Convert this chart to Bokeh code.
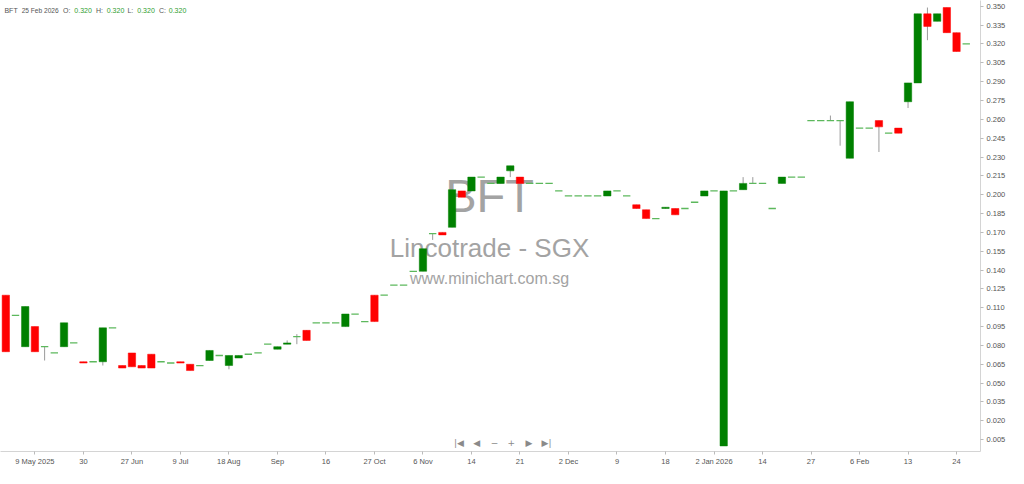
from bokeh.plotting import figure
from bokeh.models import Range1d, FixedTicker, NumeralTickFormatter, Label, ColumnDataSource
from bokeh.embed import file_html
from bokeh.resources import INLINE
from bokeh.core.properties import value

# ---- data ----
opens = [0.120, 0.104, 0.079, 0.095, 0.079, 0.074, 0.079, 0.082, 0.067, 0.067,
         0.067, 0.094, 0.064, 0.074, 0.064, 0.073, 0.067, 0.066, 0.067, 0.065,
         0.064, 0.068, 0.072, 0.064, 0.070, 0.073, 0.074, 0.081, 0.077, 0.081,
         0.087, 0.092, 0.098, 0.098, 0.098, 0.095, 0.105, 0.099, 0.120, 0.120,
         0.128, 0.128, 0.139, 0.139, 0.169, 0.170, 0.174, 0.203, 0.203, 0.214,
         0.209, 0.209, 0.219, 0.214, 0.209, 0.209, 0.209, 0.203, 0.199, 0.199,
         0.199, 0.199, 0.199, 0.203, 0.199, 0.192, 0.188, 0.181, 0.189, 0.189,
         0.189, 0.194, 0.199, 0.203, 0.000, 0.203, 0.204, 0.209, 0.209, 0.189,
         0.209, 0.214, 0.214, 0.259, 0.259, 0.259, 0.259, 0.229, 0.253, 0.253,
         0.259, 0.249, 0.253, 0.274, 0.289, 0.344, 0.338, 0.349, 0.329, 0.320]
closes = [0.075, 0.104, 0.111, 0.075, 0.079, 0.074, 0.098, 0.082, 0.066, 0.067,
          0.094, 0.094, 0.062, 0.063, 0.062, 0.062, 0.067, 0.066, 0.066, 0.060,
          0.064, 0.076, 0.072, 0.072, 0.072, 0.073, 0.074, 0.081, 0.079, 0.082,
          0.087, 0.084, 0.098, 0.098, 0.098, 0.105, 0.105, 0.099, 0.099, 0.120,
          0.128, 0.128, 0.139, 0.157, 0.169, 0.168, 0.204, 0.198, 0.214, 0.214,
          0.209, 0.214, 0.223, 0.209, 0.209, 0.209, 0.209, 0.203, 0.199, 0.199,
          0.199, 0.199, 0.203, 0.203, 0.199, 0.189, 0.181, 0.181, 0.190, 0.184,
          0.189, 0.194, 0.203, 0.203, 0.203, 0.203, 0.209, 0.209, 0.209, 0.189,
          0.214, 0.214, 0.214, 0.259, 0.259, 0.259, 0.259, 0.274, 0.253, 0.253,
          0.254, 0.249, 0.249, 0.289, 0.344, 0.334, 0.344, 0.329, 0.314, 0.320]
highs = [0.120, 0.104, 0.111, 0.095, 0.079, 0.074, 0.098, 0.082, 0.067, 0.067,
         0.094, 0.094, 0.064, 0.074, 0.064, 0.073, 0.067, 0.066, 0.067, 0.065,
         0.064, 0.076, 0.072, 0.072, 0.072, 0.073, 0.074, 0.081, 0.079, 0.084,
         0.089, 0.092, 0.098, 0.098, 0.098, 0.105, 0.105, 0.099, 0.120, 0.120,
         0.128, 0.128, 0.139, 0.157, 0.169, 0.170, 0.204, 0.203, 0.214, 0.214,
         0.209, 0.214, 0.223, 0.214, 0.209, 0.209, 0.209, 0.203, 0.199, 0.199,
         0.199, 0.199, 0.203, 0.203, 0.199, 0.192, 0.188, 0.181, 0.190, 0.189,
         0.189, 0.194, 0.203, 0.203, 0.203, 0.203, 0.214, 0.214, 0.209, 0.189,
         0.214, 0.214, 0.214, 0.259, 0.259, 0.263, 0.259, 0.274, 0.253, 0.253,
         0.259, 0.249, 0.253, 0.289, 0.344, 0.349, 0.344, 0.349, 0.329, 0.320]
lows = [0.075, 0.104, 0.079, 0.075, 0.068, 0.074, 0.079, 0.082, 0.066, 0.067,
        0.064, 0.094, 0.062, 0.063, 0.062, 0.062, 0.067, 0.066, 0.066, 0.060,
        0.064, 0.068, 0.072, 0.061, 0.070, 0.073, 0.074, 0.081, 0.077, 0.081,
        0.081, 0.084, 0.098, 0.098, 0.098, 0.095, 0.105, 0.099, 0.099, 0.120,
        0.128, 0.128, 0.139, 0.139, 0.164, 0.168, 0.174, 0.198, 0.203, 0.214,
        0.209, 0.209, 0.214, 0.209, 0.209, 0.209, 0.209, 0.203, 0.199, 0.199,
        0.199, 0.199, 0.199, 0.203, 0.199, 0.189, 0.181, 0.181, 0.189, 0.184,
        0.189, 0.194, 0.199, 0.203, 0.000, 0.203, 0.204, 0.209, 0.209, 0.189,
        0.209, 0.214, 0.214, 0.259, 0.259, 0.259, 0.239, 0.229, 0.253, 0.253,
        0.234, 0.249, 0.249, 0.269, 0.289, 0.323, 0.338, 0.329, 0.314, 0.320]

tick_positions = [3, 8, 13, 18, 23, 28, 33, 38, 43, 48, 53, 58, 63, 68, 73, 78, 83, 88, 93, 98]
tick_labels = ["9 May 2025", "30", "27 Jun", "9 Jul", "18 Aug", "Sep", "16", "27 Oct", "6 Nov", "14",
               "21", "2 Dec", "9", "18", "2 Jan 2026", "14", "27", "6 Feb", "13", "24"]
price_ticks = [round(0.005 + 0.015 * k, 3) for k in range(24)]

symbol = "BFT"
last_date = "25 Feb 2026"
last_close = closes[-1]

# ---- layout helpers: reference-pixel -> data ----
X0, X1 = -0.548, 100.47
Y0, Y1 = -0.00444, 0.3546
def dx(px):
    return X0 + px / 996.0 * (X1 - X0)
def dy(py):
    return Y1 - py / 468.0 * (Y1 - Y0)

p = figure(width=1008, height=468, output_backend="svg", toolbar_location=None,
           x_range=Range1d(X0, X1), y_range=Range1d(Y0, Y1),
           y_axis_location="right", min_border_left=0, min_border_top=0,
           min_border_right=28, min_border_bottom=16)
p.outline_line_color = None
p.xgrid.visible = False
p.ygrid.visible = False
p.background_fill_color = "white"

# watermark
wm_font = value("Liberation Sans")
p.text(x=[dx(497)], y=[dy(202)], text=[symbol], text_font=wm_font, text_font_size="47px",
       text_color="#a3a3a3", text_align="center", text_baseline="middle")
p.text(x=[dx(497)], y=[dy(257)], text=["Lincotrade - SGX"], text_font=wm_font, text_font_size="26px",
       text_color="#a3a3a3", text_align="center", text_baseline="middle")
p.text(x=[dx(497)], y=[dy(288)], text=["www.minichart.com.sg"], text_font=wm_font, text_font_size="16px",
       text_color="#a3a3a3", text_align="center", text_baseline="middle")

n = len(opens)
idx = list(range(n))

# wicks
p.segment(x0=idx, y0=lows, x1=idx, y1=highs, line_color="#9a9a9a", line_width=1)

def subset(cond):
    xs, tops, bots = [], [], []
    for i in idx:
        if cond(opens[i], closes[i]):
            xs.append(i)
            tops.append(max(opens[i], closes[i]))
            bots.append(min(opens[i], closes[i]))
    return ColumnDataSource(dict(x=xs, top=tops, bottom=bots))

up_src = subset(lambda o, c: c > o)
dn_src = subset(lambda o, c: c < o)
fl_src = subset(lambda o, c: c == o)

W = 0.76
p.vbar(x="x", top="top", bottom="bottom", width=W, source=up_src,
       fill_color="#008000", line_color="#008000", line_width=0.5)
p.vbar(x="x", top="top", bottom="bottom", width=W, source=dn_src,
       fill_color="#ff0000", line_color="#ff0000", line_width=0.5)
fx = fl_src.data["x"]
p.segment(x0=[x - W / 2 for x in fx], x1=[x + W / 2 for x in fx],
          y0=fl_src.data["top"], y1=fl_src.data["top"], line_color="#5cb85c", line_width=1.3)

# axes
lab_font = "Liberation Sans"
xa = p.xaxis[0]
xa.ticker = FixedTicker(ticks=tick_positions)
xa.major_label_overrides = {t: l for t, l in zip(tick_positions, tick_labels)}
xa.minor_tick_line_color = None
xa.axis_line_color = "#d4d4d4"
xa.major_tick_line_color = "#bbbbbb"
xa.major_tick_in = 0
xa.major_tick_out = 3
xa.major_label_standoff = 2
xa.major_label_text_font_size = "7.5px"
xa.major_label_text_color = "#555555"
xa.major_label_text_font = lab_font

ya = p.yaxis[0]
ya.ticker = FixedTicker(ticks=price_ticks)
ya.formatter = NumeralTickFormatter(format="0.000")
ya.minor_tick_line_color = None
ya.axis_line_color = "#d4d4d4"
ya.major_tick_line_color = "#bbbbbb"
ya.major_tick_in = 0
ya.major_tick_out = 3
ya.major_label_standoff = 3
ya.major_label_text_font_size = "7.5px"
ya.major_label_text_color = "#555555"
ya.major_label_text_font = lab_font

# header
hdr_y = dy(10.3)
grey = "#555555"
green = "#2f9e2f"
parts = [(4, symbol, grey), (21.5, last_date, grey), (63.5, "O:", grey), (75, "%.3f" % opens[-1], green),
         (97, "H:", grey), (108, "%.3f" % highs[-1], green), (129, "L:", grey), (139, "%.3f" % lows[-1], green),
         (161, "C:", grey), (171, "%.3f" % closes[-1], green)]
for px, t, col in parts:
    p.add_layout(Label(x=dx(px), y=hdr_y, text=t, text_color=col,
                       text_font_size="6.6px" if t == last_date else "7px",
                       text_font=lab_font, text_baseline="middle", text_align="left"))

# navigation icons
for px, t in [(466, "|◀"), (484, "◀"), (502, "−"), (519, "+"), (537, "▶"), (555, "▶|")]:
    p.add_layout(Label(x=dx(px), y=dy(459), text=t, text_color="#8a8a8a", text_font_size="9px",
                       text_font="DejaVu Sans", text_baseline="middle", text_align="center"))

open("out.html", "w").write(file_html(p, INLINE))
